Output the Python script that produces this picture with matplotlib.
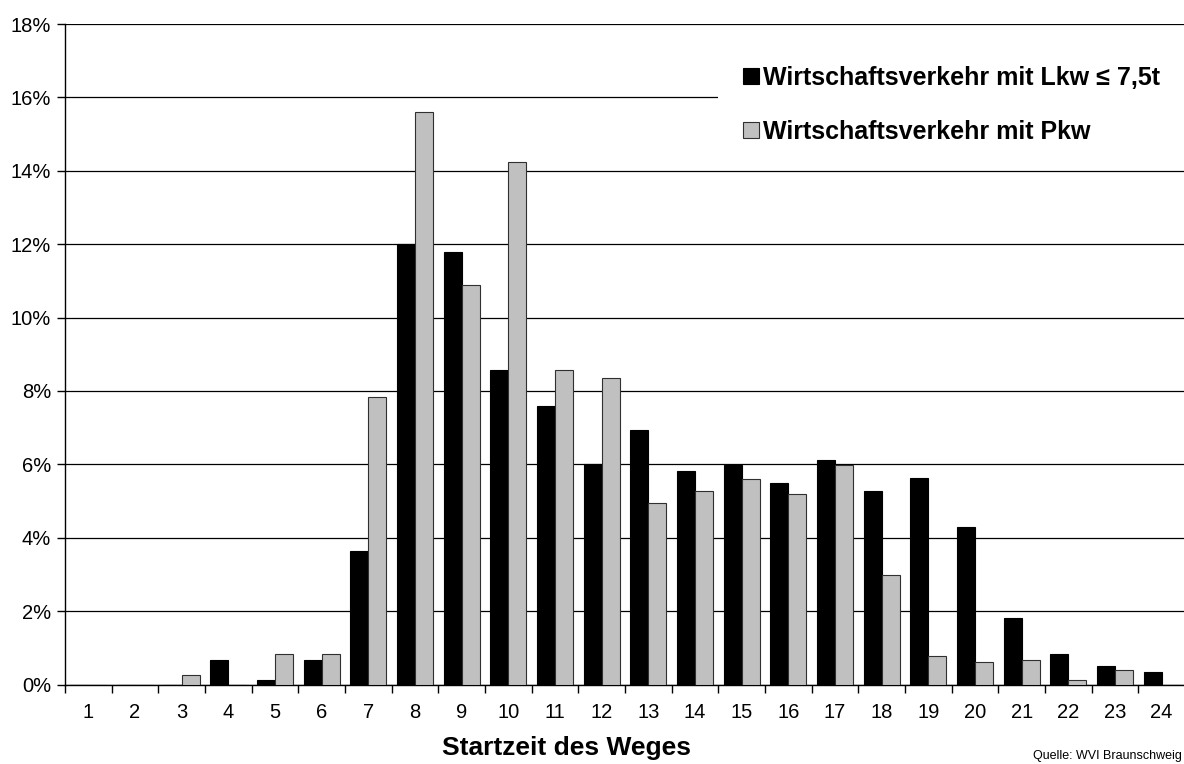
import numpy as np
import matplotlib
matplotlib.use("Agg")
import matplotlib.pyplot as plt
from matplotlib.patches import Rectangle
from matplotlib.ticker import FixedLocator, PercentFormatter

plt.rcParams['font.family'] = ['Liberation Sans', 'DejaVu Sans']

# Startzeit (Stunde) und Anteil der Wege in %
hours = list(range(1, 25))
lkw = [0.0, 0.0, 0.0, 0.67, 0.12, 0.67, 3.63, 12.0, 11.8, 8.56, 7.59, 6.0,
       6.93, 5.81, 5.99, 5.50, 6.11, 5.28, 5.64, 4.29, 1.80, 0.82, 0.50, 0.33]
pkw = [0.0, 0.0, 0.25, 0.0, 0.82, 0.82, 7.84, 15.6, 10.88, 14.25, 8.56, 8.34,
       4.94, 5.28, 5.61, 5.20, 5.97, 2.98, 0.79, 0.60, 0.67, 0.11, 0.39, 0.0]
label_lkw = "Wirtschaftsverkehr mit Lkw \u2264 7,5t"
label_pkw = "Wirtschaftsverkehr mit Pkw"
yticks = list(range(0, 19, 2))

W, H = 1184, 764
fig = plt.figure(figsize=(W / 100, H / 100), dpi=100)
ax = fig.add_axes([65 / W, 79.5 / H, 1120 / W, 660.5 / H])

x = np.array(hours)
w = 0.385
ax.bar(x - w / 2, lkw, width=w, color='black', edgecolor='black', linewidth=0.8,
       label=label_lkw, zorder=3)
ax.bar(x + w / 2, pkw, width=w, color='#c0c0c0', edgecolor='#303030', linewidth=0.8,
       label=label_pkw, zorder=3)

ax.set_xlim(0.5, 24.5)
ax.set_ylim(0, 18)
ax.set_yticks(yticks)
ax.yaxis.set_major_formatter(PercentFormatter(decimals=0))
ax.yaxis.grid(True, color='black', linewidth=0.9)
ax.set_axisbelow(True)

ax.set_xticks(hours)
ax.xaxis.set_minor_locator(FixedLocator(np.arange(0.5, 25, 1)))
ax.tick_params(axis='x', which='major', length=0, pad=13, labelsize=14.5)
ax.tick_params(axis='x', which='minor', length=6, width=1, direction='out')
ax.tick_params(axis='y', length=6, width=1, pad=4, labelsize=14.5)

for s in ['top', 'right']:
    ax.spines[s].set_visible(False)
for s in ['left', 'bottom']:
    ax.spines[s].set_linewidth(1)

# white area behind the legend hides the upper grid line
ax.add_patch(Rectangle((718 / W, 1 - 156 / H), (W - 718) / W, 124 / H,
                       transform=fig.transFigure, facecolor='white',
                       edgecolor='none', zorder=4, clip_on=False))

leg = ax.legend(loc='upper left', bbox_to_anchor=(743 / W, 1 - 66 / H),
                bbox_transform=fig.transFigure, frameon=False,
                prop={'weight': 'bold', 'size': 18}, handlelength=0.64,
                handleheight=0.64, handletextpad=0.15, labelspacing=1.2,
                borderpad=0, borderaxespad=0)
leg.set_zorder(5)

fig.text(566 / W, 1 - 748 / H, "Startzeit des Weges", fontsize=19,
         fontweight='bold', ha='center', va='center')
fig.text(1033 / W, 1 - 762 / H, "Quelle: WVI Braunschweig", fontsize=9,
         va='bottom', ha='left')

fig.savefig("out.png", dpi=100)
